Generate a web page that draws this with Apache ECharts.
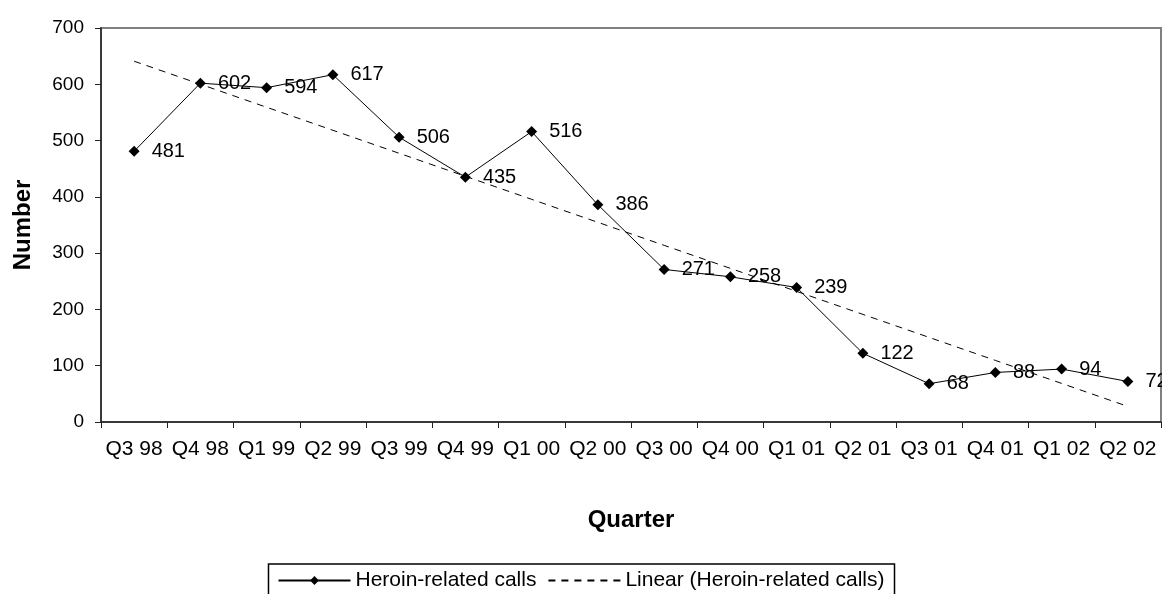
<!DOCTYPE html>
<html>
<head>
<meta charset="utf-8">
<script src="https://cdn.jsdelivr.net/npm/echarts@6/dist/echarts.min.js"></script>
<style>
  html, body { margin: 0; padding: 0; background: #fff; }
  #chart { width: 1162px; height: 594px; }
</style>
</head>
<body>
<div id="chart"></div>
<script>
var quarters = ['Q3 98', 'Q4 98', 'Q1 99', 'Q2 99', 'Q3 99', 'Q4 99', 'Q1 00', 'Q2 00',
                'Q3 00', 'Q4 00', 'Q1 01', 'Q2 01', 'Q3 01', 'Q4 01', 'Q1 02', 'Q2 02'];
var calls = [481, 602, 594, 617, 506, 435, 516, 386, 271, 258, 239, 122, 68, 88, 94, 72];
var yTicks = [0, 100, 200, 300, 400, 500, 600, 700];

// least squares trend, like the spreadsheet's "Linear" trendline
function linearTrend(ys) {
    var n = ys.length, sx = 0, sy = 0, sxy = 0, sxx = 0;
    for (var i = 0; i < n; i++) {
        sx += i; sy += ys[i]; sxy += i * ys[i]; sxx += i * i;
    }
    var b = (n * sxy - sx * sy) / (n * sxx - sx * sx);
    var a = (sy - b * sx) / n;
    return ys.map(function (v, i) { return +(a + b * i).toFixed(2); });
}
var trend = linearTrend(calls);

var font = 'Liberation Sans, Arial, sans-serif';
var chart = echarts.init(document.getElementById('chart'));
var option = {
    backgroundColor: '#fff',
    animation: false,
    textStyle: { fontFamily: font },
    grid: {
        left: 101, right: 1, top: 28, bottom: 172,
        show: true, borderColor: '#808080', borderWidth: 2
    },
    xAxis: {
        type: 'category',
        data: quarters,
        name: 'Quarter',
        nameLocation: 'middle',
        nameGap: 86,
        nameTextStyle: { fontSize: 24, fontWeight: 'bold', color: '#000', fontFamily: font },
        axisLine: { lineStyle: { color: '#222', width: 1.5 } },
        axisTick: { show: true, length: 6, lineStyle: { color: '#222' } },
        axisLabel: { color: '#000', fontSize: 21, margin: 17, interval: 0, fontFamily: font },
        splitLine: { show: false }
    },
    yAxis: {
        type: 'value',
        min: yTicks[0],
        max: yTicks[yTicks.length - 1],
        interval: 100,
        name: 'Number',
        nameLocation: 'middle',
        nameGap: 66,
        nameTextStyle: { fontSize: 24, fontWeight: 'bold', color: '#000', fontFamily: font },
        axisLine: { show: true, lineStyle: { color: '#222', width: 1.5 } },
        axisTick: { show: true, length: 6, lineStyle: { color: '#222' } },
        axisLabel: { color: '#000', fontSize: 19, margin: 17, fontFamily: font },
        splitLine: { show: false }
    },
    legend: {
        top: 564,
        left: 'center',
        itemWidth: 72,
        itemHeight: 11,
        itemGap: 11,
        itemTextGap: 7,
        borderColor: '#000',
        borderWidth: 1.5,
        padding: [6, 10, 10, 9],
        textStyle: { color: '#000', fontSize: 21, fontFamily: font },
        data: [
            { name: 'Heroin-related calls' },
            { name: 'Linear (Heroin-related calls)', itemStyle: { opacity: 0 } }
        ]
    },
    series: [
        {
            name: 'Heroin-related calls',
            type: 'line',
            data: calls,
            symbol: 'diamond',
            symbolSize: 11,
            itemStyle: { color: '#000' },
            lineStyle: { color: '#000', width: 1 },
            label: {
                show: true,
                position: 'right',
                distance: 12,
                color: '#000',
                fontSize: 20,
                fontFamily: font
            },
            z: 3
        },
        {
            name: 'Linear (Heroin-related calls)',
            type: 'line',
            data: trend,
            symbol: 'none',
            itemStyle: { color: '#000' },
            lineStyle: { color: '#000', width: 1, type: [7, 6] },
            silent: true,
            z: 2
        }
    ]
};
chart.setOption(option);
</script>
</body>
</html>
